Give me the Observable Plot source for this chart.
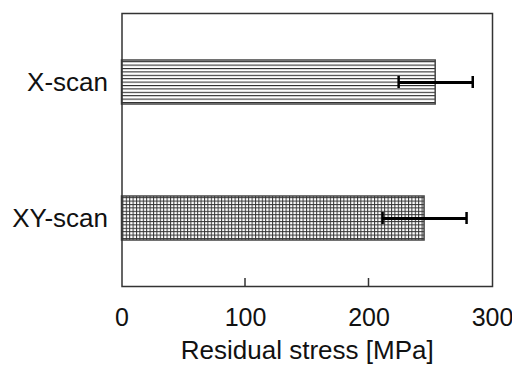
<!DOCTYPE html>
<html>
<head>
<meta charset="utf-8">
<script src="https://cdn.jsdelivr.net/npm/d3@7"></script>
<script src="https://cdn.jsdelivr.net/npm/@observablehq/plot@0.6"></script>
<style>
  html, body { margin: 0; padding: 0; background: #fff; }
  #chart svg { display: block; }
</style>
</head>
<body>
<div id="chart"></div>
<script>
const categories = ["X-scan", "XY-scan"];
const stress = [254, 245];
const errors = [30, 34];
const patterns = ["url(#hlines)", "url(#grid)"];
const xTicks = [0, 100, 200, 300];
const innerTicks = [100, 200];
const xLabel = "Residual stress [MPa]";

const data = categories.map((c, i) => ({
  cat: c, v: stress[i], lo: stress[i] - errors[i], hi: stress[i] + errors[i], fill: patterns[i]
}));

const W = 512, H = 365, mL = 121.5, mR = 20, mT = 13, mB = 79;
const font = "Arial, 'Liberation Sans', Helvetica, sans-serif";

// inward tick marks on the bottom axis, positioned through Plot's x scale
function innerTickMark(index, scales, values, dims) {
  const g = d3.create("svg:g");
  const yb = dims.height - dims.marginBottom;
  for (const t of innerTicks) {
    const x = scales.x(t);
    g.append("line").attr("x1", x).attr("x2", x).attr("y1", yb).attr("y2", yb - 8)
      .attr("stroke", "#333").attr("stroke-width", 1.5);
  }
  return g.node();
}

const chart = Plot.plot({
  width: W, height: H,
  marginLeft: mL, marginRight: mR, marginTop: mT, marginBottom: mB,
  style: { fontFamily: font, fontSize: "25px", color: "#111", background: "#fff" },
  x: { domain: [0, 300], axis: null },
  y: { domain: categories, paddingInner: 0.678, paddingOuter: 0.339, axis: null },
  marks: [
    Plot.barX(data, { x: "v", y: "cat", fill: "fill", stroke: "#444", strokeWidth: 1.5 }),
    Plot.ruleY(data, { y: "cat", x1: "lo", x2: "hi", stroke: "#000", strokeWidth: 3 }),
    Plot.tickX(data, { x: "lo", y: "cat", stroke: "#000", strokeWidth: 2.5, insetTop: 16, insetBottom: 16 }),
    Plot.tickX(data, { x: "hi", y: "cat", stroke: "#000", strokeWidth: 2.5, insetTop: 16, insetBottom: 16 }),
    innerTickMark,
    Plot.frame({ stroke: "#333", strokeWidth: 1.5 }),
    Plot.text(xTicks, { x: d => d, text: d => String(d), frameAnchor: "bottom", lineAnchor: "top", dy: 22, fontSize: 25, fill: "#111" }),
    Plot.text(categories, { y: d => d, text: d => d, frameAnchor: "left", textAnchor: "end", dx: -14, fontSize: 26, fill: "#111" }),
    Plot.text([xLabel], { text: d => d, frameAnchor: "bottom", lineAnchor: "middle", dy: 64, fontSize: 26, fill: "#111" })
  ]
});

const defs = d3.select(chart).insert("defs", ":first-child");
const h = defs.append("pattern").attr("id", "hlines").attr("patternUnits", "userSpaceOnUse")
  .attr("width", 8).attr("height", 3.4);
h.append("rect").attr("width", 8).attr("height", 3.4).attr("fill", "#fff");
h.append("line").attr("x1", 0).attr("x2", 8).attr("y1", 0.5).attr("y2", 0.5).attr("stroke", "#222").attr("stroke-width", 1.1);
const g = defs.append("pattern").attr("id", "grid").attr("patternUnits", "userSpaceOnUse")
  .attr("width", 3.4).attr("height", 3.4);
g.append("rect").attr("width", 3.4).attr("height", 3.4).attr("fill", "#fff");
g.append("line").attr("x1", 0).attr("x2", 3.4).attr("y1", 0.5).attr("y2", 0.5).attr("stroke", "#333").attr("stroke-width", 1);
g.append("line").attr("y1", 0).attr("y2", 3.4).attr("x1", 0.5).attr("x2", 0.5).attr("stroke", "#333").attr("stroke-width", 1);

document.getElementById("chart").appendChild(chart);
</script>
</body>
</html>
